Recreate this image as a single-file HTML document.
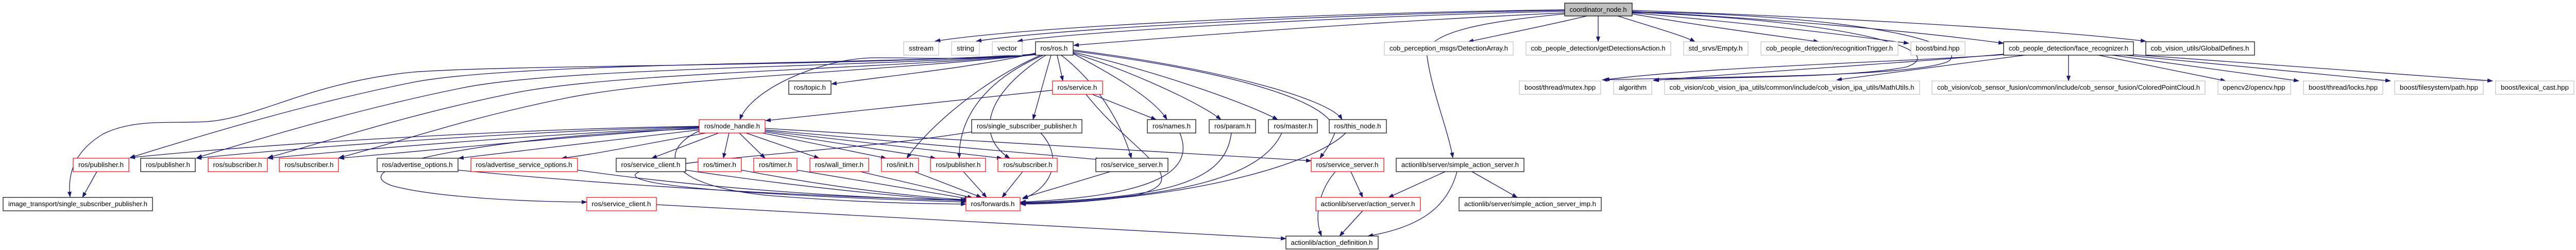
<!DOCTYPE html>
<html><head><meta charset="utf-8"><style>
html,body{margin:0;padding:0;background:#fff;width:5009px;height:485px;overflow:hidden}
svg{display:block}
text{font-family:"Liberation Sans",sans-serif;font-size:13px;fill:#000}
.e{fill:none;stroke:#191970;stroke-width:1.3}
.b{fill:#fff;stroke:#000;stroke-width:1.2}
.r{fill:#fff;stroke:#ff0000;stroke-width:1.2}
.g{fill:#fff;stroke:#bfbfbf;stroke-width:1.2}
</style></head><body>
<svg width="5009" height="485" viewBox="0 0 5009 485" xmlns="http://www.w3.org/2000/svg">
<defs><marker id="a" markerWidth="11" markerHeight="8" refX="10" refY="4" orient="auto" markerUnits="userSpaceOnUse"><path d="M0,0 L11,4 L0,8 z" fill="#191970"/></marker></defs>
<g class="e" marker-end="url(#a)">
<!-- coordinator -->
<path d="M3037,19 C2600,24 2000,50 1815,80"/>
<path d="M3037,20 C2600,27 2050,55 1895,80"/>
<path d="M3037,22 C2650,30 2100,60 1975,80"/>
<path d="M3037,25 C2700,40 2300,70 2084,88"/>
<path d="M3080,31 C3000,50 2900,70 2850,81"/>
<path d="M3102,31 L3102,81"/>
<path d="M3140,31 C3200,50 3270,70 3290,81"/>
<path d="M3168,27 C3300,50 3450,70 3530,81"/>
<path d="M3168,25 C3400,45 3600,70 3705,84"/>
<path d="M3168,22 C3500,40 3750,65 3889,84"/>
<path d="M3168,20 C3600,35 4000,60 4165,80"/>
<path d="M3037,27 C2900,40 2760,60 2770,110 C2780,180 2810,250 2820,306"/>
<path d="M3168,23 C3650,30 3830,90 3780,120 C3700,150 3350,148 3110,155"/>
<path d="M3168,24 C3600,40 3790,100 3700,130 C3600,150 3350,150 3210,155"/>
<!-- ros.h -->
<path d="M2010,103 C1900,130 1700,150 1614,163"/>
<path d="M2010,104 C1900,118 1800,112 1700,112 C1600,112 1460,170 1436,232"/>
<path d="M2052,107 L2063,157"/>
<path d="M2040,107 L2005,232"/>
<path d="M2083,104 C2150,140 2240,190 2265,232"/>
<path d="M2083,103 C2200,140 2330,200 2370,232"/>
<path d="M2083,101 C2250,140 2420,200 2480,232"/>
<path d="M2083,97 C2350,130 2580,190 2605,232"/>
<path d="M2083,99 C2400,140 2600,200 2590,260 C2580,285 2570,295 2562,307"/>
<path d="M2020,107 C1900,160 1800,250 1760,307"/>
<path d="M2025,107 C1900,160 1860,240 1862,307"/>
<path d="M2030,107 C1900,190 1900,270 1960,307"/>
<path d="M2060,107 C2140,170 2180,250 2196,307"/>
<path d="M2010,106 C1700,125 1000,120 800,160 C600,200 400,260 252,306"/>
<path d="M2010,106 C1700,130 1100,130 900,170 C700,210 500,270 382,306"/>
<path d="M2010,106 C1700,135 1200,140 1000,180 C800,220 650,270 520,306"/>
<path d="M2010,106 C1700,140 1300,150 1100,190 C900,230 760,280 658,306"/>
<path d="M2010,105 C1600,130 1000,125 800,140 C600,160 500,230 400,236 C330,240 260,230 200,260 C150,290 130,330 136,382"/>
<!-- node_handle -->
<path d="M1357,245 C1000,250 500,280 252,306"/>
<path d="M1357,246 C1000,255 600,285 381,307"/>
<path d="M1357,247 C1050,260 700,290 520,307"/>
<path d="M1357,248 C1100,265 800,295 658,307"/>
<path d="M1357,252 C1200,270 1000,295 890,307"/>
<path d="M1370,258 C1250,280 1150,300 1090,307"/>
<path d="M1395,258 L1265,307"/>
<path d="M1357,250 C1000,260 650,320 760,360 C850,385 1050,392 1139,392"/>
<path d="M1415,258 L1404,307"/>
<path d="M1435,258 L1485,307"/>
<path d="M1448,258 L1590,307"/>
<path d="M1480,258 L1720,307"/>
<path d="M1485,256 L1816,307"/>
<path d="M1485,254 L1945,307"/>
<path d="M1485,252 L2137,310"/>
<path d="M1485,249 L2545,312"/>
<path d="M1357,254 C1280,290 1280,360 1500,380 C1700,395 1800,395 1875,396"/>
<!-- service.h -->
<path d="M2043,175 L1486,234"/>
<path d="M2120,183 L2244,232"/>
<path d="M2108,183 C2200,300 2330,350 2200,380 C2100,395 2000,396 1981,396"/>
<!-- to forwards -->
<path d="M1331,330 C1600,370 1800,385 1875,390"/>
<path d="M889,330 C1300,370 1700,385 1875,388"/>
<path d="M1121,330 C1400,370 1700,385 1875,389"/>
<path d="M1439,330 C1650,370 1800,383 1880,388"/>
<path d="M1547,330 L1882,386"/>
<path d="M1670,333 L1888,384"/>
<path d="M1775,333 L1905,383"/>
<path d="M1870,333 L1915,383"/>
<path d="M1985,333 L1945,383"/>
<path d="M2155,333 L1985,384"/>
<path d="M2020,258 C2060,300 2050,360 1985,386"/>
<path d="M2290,258 C2320,330 2250,380 1981,392"/>
<path d="M2390,258 C2380,340 2300,385 1981,393"/>
<path d="M2488,258 C2450,340 2300,385 1981,394"/>
<path d="M2612,258 C2550,320 2300,390 1981,395"/>
<path d="M1920,250 C1700,290 1400,300 1250,330 C1150,360 1500,380 1875,392"/>
<!-- actionlib -->
<path d="M2622,333 L2645,383"/>
<path d="M2592,333 C2560,370 2550,420 2565,458"/>
<path d="M2805,333 L2695,383"/>
<path d="M2828,333 C2810,400 2760,440 2655,458"/>
<path d="M2857,333 L2945,383"/>
<path d="M2645,409 L2600,458"/>
<path d="M1274,397 L2496,463"/>
<path d="M188,333 L160,383"/>
<path d="M160,304 C155,330 135,360 136,382" style="display:none"/>
<!-- face_recognizer -->
<path d="M4015,107 L4015,157"/>
<path d="M4073,107 L4320,157"/>
<path d="M4100,107 L4462,157"/>
<path d="M4125,107 L4640,157"/>
<path d="M4140,106 L4838,157"/>
<path d="M3889,106 C3700,120 3300,130 3114,155"/>
<path d="M3889,105 C3700,122 3400,140 3209,156"/>
<path d="M3930,107 L3565,155"/>
</g>
<!-- nodes -->
<g>
<rect class="b" x="3037" y="6" width="131" height="25" style="fill:#bfbfbf"/><text x="3102" y="23" text-anchor="middle" textLength="111" lengthAdjust="spacingAndGlyphs">coordinator_node.h</text>

<rect class="g" x="1754" y="81" width="68" height="26"/><text x="1788" y="98" text-anchor="middle" textLength="48" lengthAdjust="spacingAndGlyphs">sstream</text>
<rect class="g" x="1847" y="81" width="54" height="26"/><text x="1874" y="98" text-anchor="middle" textLength="34" lengthAdjust="spacingAndGlyphs">string</text>
<rect class="g" x="1926" y="81" width="58" height="26"/><text x="1955" y="98" text-anchor="middle" textLength="38" lengthAdjust="spacingAndGlyphs">vector</text>
<rect class="b" x="2010" y="81" width="73" height="26"/><text x="2046" y="98" text-anchor="middle" textLength="53" lengthAdjust="spacingAndGlyphs">ros/ros.h</text>
<rect class="g" x="2687" y="81" width="250" height="26"/><text x="2812" y="98" text-anchor="middle" textLength="230" lengthAdjust="spacingAndGlyphs">cob_perception_msgs/DetectionArray.h</text>
<rect class="g" x="2962" y="81" width="281" height="26"/><text x="3102" y="98" text-anchor="middle" textLength="261" lengthAdjust="spacingAndGlyphs">cob_people_detection/getDetectionsAction.h</text>
<rect class="g" x="3268" y="81" width="125" height="26"/><text x="3330" y="98" text-anchor="middle" textLength="105" lengthAdjust="spacingAndGlyphs">std_srvs/Empty.h</text>
<rect class="g" x="3418" y="81" width="266" height="26"/><text x="3551" y="98" text-anchor="middle" textLength="246" lengthAdjust="spacingAndGlyphs">cob_people_detection/recognitionTrigger.h</text>
<rect class="g" x="3709" y="81" width="105" height="26"/><text x="3761" y="98" text-anchor="middle" textLength="85" lengthAdjust="spacingAndGlyphs">boost/bind.hpp</text>
<rect class="b" x="3889" y="81" width="252" height="26"/><text x="4015" y="98" text-anchor="middle" textLength="232" lengthAdjust="spacingAndGlyphs">cob_people_detection/face_recognizer.h</text>
<rect class="b" x="4165" y="81" width="211" height="26"/><text x="4270" y="98" text-anchor="middle" textLength="191" lengthAdjust="spacingAndGlyphs">cob_vision_utils/GlobalDefines.h</text>

<rect class="b" x="1531" y="157" width="82" height="26"/><text x="1572" y="174" text-anchor="middle" textLength="62" lengthAdjust="spacingAndGlyphs">ros/topic.h</text>
<rect class="r" x="2043" y="157" width="97" height="26"/><text x="2091" y="174" text-anchor="middle" textLength="77" lengthAdjust="spacingAndGlyphs">ros/service.h</text>
<rect class="g" x="2949" y="157" width="158" height="26"/><text x="3028" y="174" text-anchor="middle" textLength="138" lengthAdjust="spacingAndGlyphs">boost/thread/mutex.hpp</text>
<rect class="g" x="3132" y="157" width="74" height="26"/><text x="3169" y="174" text-anchor="middle" textLength="54" lengthAdjust="spacingAndGlyphs">algorithm</text>
<rect class="g" x="3231" y="157" width="495" height="26"/><text x="3478" y="174" text-anchor="middle" textLength="475" lengthAdjust="spacingAndGlyphs">cob_vision/cob_vision_ipa_utils/common/include/cob_vision_ipa_utils/MathUtils.h</text>
<rect class="g" x="3750" y="157" width="530" height="26"/><text x="4015" y="174" text-anchor="middle" textLength="510" lengthAdjust="spacingAndGlyphs">cob_vision/cob_sensor_fusion/common/include/cob_sensor_fusion/ColoredPointCloud.h</text>
<rect class="g" x="4305" y="157" width="141" height="26"/><text x="4375" y="174" text-anchor="middle" textLength="121" lengthAdjust="spacingAndGlyphs">opencv2/opencv.hpp</text>
<rect class="g" x="4471" y="157" width="154" height="26"/><text x="4548" y="174" text-anchor="middle" textLength="134" lengthAdjust="spacingAndGlyphs">boost/thread/locks.hpp</text>
<rect class="g" x="4648" y="157" width="172" height="26"/><text x="4734" y="174" text-anchor="middle" textLength="152" lengthAdjust="spacingAndGlyphs">boost/filesystem/path.hpp</text>
<rect class="g" x="4844" y="157" width="152" height="26"/><text x="4920" y="174" text-anchor="middle" textLength="132" lengthAdjust="spacingAndGlyphs">boost/lexical_cast.hpp</text>

<rect class="r" x="1357" y="232" width="128" height="26"/><text x="1421" y="249" text-anchor="middle" textLength="108" lengthAdjust="spacingAndGlyphs">ros/node_handle.h</text>
<rect class="b" x="1886" y="232" width="214" height="26"/><text x="1993" y="249" text-anchor="middle" textLength="194" lengthAdjust="spacingAndGlyphs">ros/single_subscriber_publisher.h</text>
<rect class="b" x="2227" y="232" width="94" height="26"/><text x="2274" y="249" text-anchor="middle" textLength="74" lengthAdjust="spacingAndGlyphs">ros/names.h</text>
<rect class="b" x="2347" y="232" width="90" height="26"/><text x="2392" y="249" text-anchor="middle" textLength="70" lengthAdjust="spacingAndGlyphs">ros/param.h</text>
<rect class="b" x="2462" y="232" width="95" height="26"/><text x="2510" y="249" text-anchor="middle" textLength="75" lengthAdjust="spacingAndGlyphs">ros/master.h</text>
<rect class="b" x="2580" y="232" width="111" height="26"/><text x="2635" y="249" text-anchor="middle" textLength="91" lengthAdjust="spacingAndGlyphs">ros/this_node.h</text>

<rect class="r" x="142" y="307" width="108" height="26"/><text x="196" y="324" text-anchor="middle" textLength="88" lengthAdjust="spacingAndGlyphs">ros/publisher.h</text>
<rect class="b" x="273" y="307" width="106" height="26"/><text x="326" y="324" text-anchor="middle" textLength="86" lengthAdjust="spacingAndGlyphs">ros/publisher.h</text>
<rect class="r" x="404" y="307" width="115" height="26"/><text x="461" y="324" text-anchor="middle" textLength="95" lengthAdjust="spacingAndGlyphs">ros/subscriber.h</text>
<rect class="r" x="542" y="307" width="115" height="26"/><text x="600" y="324" text-anchor="middle" textLength="95" lengthAdjust="spacingAndGlyphs">ros/subscriber.h</text>
<rect class="b" x="732" y="307" width="157" height="26"/><text x="810" y="324" text-anchor="middle" textLength="137" lengthAdjust="spacingAndGlyphs">ros/advertise_options.h</text>
<rect class="r" x="914" y="307" width="207" height="26"/><text x="1017" y="324" text-anchor="middle" textLength="187" lengthAdjust="spacingAndGlyphs">ros/advertise_service_options.h</text>
<rect class="b" x="1196" y="307" width="135" height="26"/><text x="1263" y="324" text-anchor="middle" textLength="115" lengthAdjust="spacingAndGlyphs">ros/service_client.h</text>
<rect class="r" x="1355" y="307" width="84" height="26"/><text x="1397" y="324" text-anchor="middle" textLength="64" lengthAdjust="spacingAndGlyphs">ros/timer.h</text>
<rect class="r" x="1463" y="307" width="84" height="26"/><text x="1505" y="324" text-anchor="middle" textLength="64" lengthAdjust="spacingAndGlyphs">ros/timer.h</text>
<rect class="r" x="1572" y="307" width="114" height="26"/><text x="1629" y="324" text-anchor="middle" textLength="94" lengthAdjust="spacingAndGlyphs">ros/wall_timer.h</text>
<rect class="r" x="1711" y="307" width="72" height="26"/><text x="1747" y="324" text-anchor="middle" textLength="52" lengthAdjust="spacingAndGlyphs">ros/init.h</text>
<rect class="r" x="1806" y="307" width="107" height="26"/><text x="1860" y="324" text-anchor="middle" textLength="87" lengthAdjust="spacingAndGlyphs">ros/publisher.h</text>
<rect class="r" x="1937" y="307" width="115" height="26"/><text x="1995" y="324" text-anchor="middle" textLength="95" lengthAdjust="spacingAndGlyphs">ros/subscriber.h</text>
<rect class="b" x="2127" y="307" width="140" height="26"/><text x="2197" y="324" text-anchor="middle" textLength="120" lengthAdjust="spacingAndGlyphs">ros/service_server.h</text>
<rect class="r" x="2545" y="307" width="141" height="26"/><text x="2615" y="324" text-anchor="middle" textLength="121" lengthAdjust="spacingAndGlyphs">ros/service_server.h</text>
<rect class="b" x="2710" y="307" width="248" height="26"/><text x="2834" y="324" text-anchor="middle" textLength="228" lengthAdjust="spacingAndGlyphs">actionlib/server/simple_action_server.h</text>

<rect class="b" x="6" y="383" width="290" height="26"/><text x="151" y="400" text-anchor="middle" textLength="270" lengthAdjust="spacingAndGlyphs">image_transport/single_subscriber_publisher.h</text>
<rect class="r" x="1139" y="383" width="135" height="26"/><text x="1206" y="400" text-anchor="middle" textLength="115" lengthAdjust="spacingAndGlyphs">ros/service_client.h</text>
<rect class="r" x="1875" y="383" width="105" height="26"/><text x="1927" y="400" text-anchor="middle" textLength="85" lengthAdjust="spacingAndGlyphs">ros/forwards.h</text>
<rect class="r" x="2554" y="383" width="203" height="26"/><text x="2655" y="400" text-anchor="middle" textLength="183" lengthAdjust="spacingAndGlyphs">actionlib/server/action_server.h</text>
<rect class="b" x="2832" y="383" width="276" height="26"/><text x="2970" y="400" text-anchor="middle" textLength="256" lengthAdjust="spacingAndGlyphs">actionlib/server/simple_action_server_imp.h</text>

<rect class="b" x="2496" y="458" width="179" height="25"/><text x="2585" y="475" text-anchor="middle" textLength="159" lengthAdjust="spacingAndGlyphs">actionlib/action_definition.h</text>
</g>
</svg>
</body></html>
